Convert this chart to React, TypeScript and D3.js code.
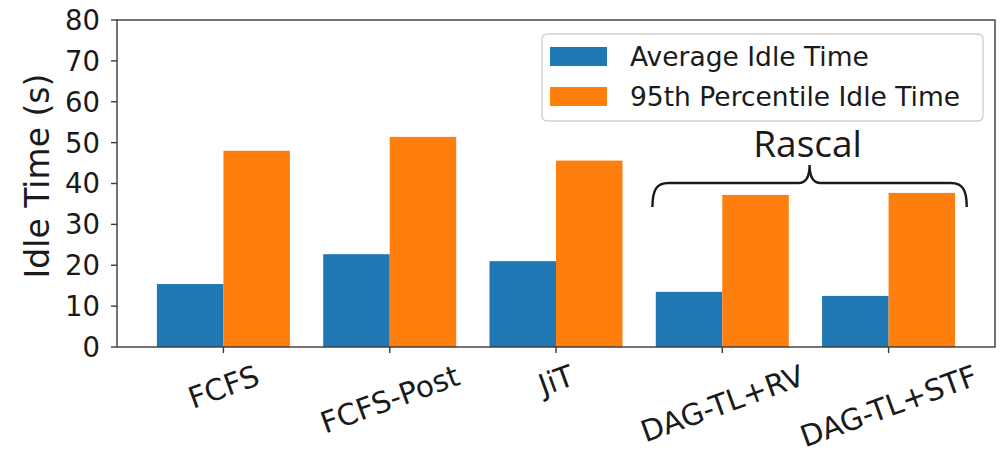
import React, { useEffect, useRef } from "react";
import * as d3 from "d3";

// Scheduling policies on the x axis
const categories = ["FCFS", "FCFS-Post", "JiT", "DAG-TL+RV", "DAG-TL+STF"];
// Idle time per policy, seconds
const averageIdle = [15.4, 22.7, 21.0, 13.5, 12.5];
const p95Idle = [48.0, 51.4, 45.6, 37.2, 37.7];
const yTicks = [0, 10, 20, 30, 40, 50, 60, 70, 80];
const seriesNames = ["Average Idle Time", "95th Percentile Idle Time"];
const seriesColors = ["#1f77b4", "#ff7f0e"];
const groupLabel = "Rascal";
const yLabel = "Idle Time (s)";

const W = 1007;
const H = 454;
const M = { left: 117, right: 995, top: 20, bottom: 347 };
const BAR_W = 0.4;
const ROT = 20;
const FONT = "'DejaVu Sans', sans-serif";
const XFS = 29.5;

export default function App() {
  const ref = useRef<SVGSVGElement | null>(null);

  useEffect(() => {
    const svg = d3.select(ref.current);
    svg.selectAll("*").remove();

    const x = d3.scaleLinear().domain([-0.64, 4.64]).range([M.left, M.right]);
    const y = d3.scaleLinear().domain([0, 80]).range([M.bottom, M.top]);

    svg.append("rect").attr("width", W).attr("height", H).attr("fill", "#fff");

    // bars
    const series = [averageIdle, p95Idle];
    series.forEach((vals, s) => {
      const off = s === 0 ? -BAR_W / 2 : BAR_W / 2;
      svg
        .append("g")
        .selectAll("rect")
        .data(vals)
        .join("rect")
        .attr("x", (_, i) => x(i + off - BAR_W / 2))
        .attr("width", x(BAR_W) - x(0))
        .attr("y", (v) => y(v))
        .attr("height", (v) => y(0) - y(v))
        .attr("fill", seriesColors[s]);
    });

    // spines
    svg
      .append("rect")
      .attr("x", M.left)
      .attr("y", M.top)
      .attr("width", M.right - M.left)
      .attr("height", M.bottom - M.top)
      .attr("fill", "none")
      .attr("stroke", "#3a3a3a")
      .attr("stroke-width", 1.4);

    // y ticks
    const yg = svg.append("g");
    yTicks.forEach((t) => {
      yg.append("line")
        .attr("x1", M.left - 6)
        .attr("x2", M.left)
        .attr("y1", y(t))
        .attr("y2", y(t))
        .attr("stroke", "#3a3a3a")
        .attr("stroke-width", 1.4);
      yg.append("text")
        .attr("x", 100)
        .attr("y", y(t))
        .attr("dy", "0.36em")
        .attr("text-anchor", "end")
        .attr("font-family", FONT)
        .attr("font-size", 27.5)
        .attr("fill", "#1a1a1a")
        .text(t);
    });

    svg
      .append("text")
      .attr("transform", `translate(48.5,176) rotate(-90)`)
      .attr("text-anchor", "middle")
      .attr("font-family", FONT)
      .attr("font-size", 33)
      .attr("fill", "#1a1a1a")
      .text(yLabel);

    // x ticks and rotated labels, centred under each tick, tops aligned
    const xg = svg.append("g");
    const rad = (ROT * Math.PI) / 180;
    categories.forEach((c, i) => {
      xg.append("line")
        .attr("x1", x(i))
        .attr("x2", x(i))
        .attr("y1", M.bottom)
        .attr("y2", M.bottom + 6)
        .attr("stroke", "#3a3a3a")
        .attr("stroke-width", 1.4);
      const t = xg
        .append("text")
        .attr("text-anchor", "middle")
        .attr("dy", "0.36em")
        .attr("font-family", FONT)
        .attr("font-size", XFS)
        .attr("fill", "#1a1a1a")
        .text(c);
      const node = t.node() as SVGTextElement;
      const len = node.getComputedTextLength();
      const capH = 0.729 * XFS;
      const hh = len * Math.sin(rad) + capH * Math.cos(rad);
      t.attr("transform", `translate(${x(i)},${364 + hh / 2}) rotate(${-ROT})`);
    });

    // legend
    const lg = svg.append("g");
    lg.append("rect")
      .attr("x", 542)
      .attr("y", 34)
      .attr("width", 441)
      .attr("height", 87)
      .attr("rx", 5)
      .attr("fill", "#fff")
      .attr("fill-opacity", 0.8)
      .attr("stroke", "#d0d0d0")
      .attr("stroke-width", 1.4);
    seriesNames.forEach((n, s) => {
      const cy = 56.5 + s * 40;
      lg.append("rect")
        .attr("x", 550)
        .attr("y", cy - 9.5)
        .attr("width", 57)
        .attr("height", 19)
        .attr("fill", seriesColors[s]);
      lg.append("text")
        .attr("x", 630)
        .attr("y", cy)
        .attr("dy", "0.36em")
        .attr("font-family", FONT)
        .attr("font-size", 26.5)
        .attr("fill", "#1a1a1a")
        .text(n);
    });

    // brace over the Rascal policies
    const x0 = x(2.58);
    const x1 = x(4.47);
    const xm = (x0 + x1) / 2;
    const yb = 207;
    const yh = 183;
    const yp = 165;
    const path = d3.path();
    path.moveTo(x0, yb);
    path.bezierCurveTo(x0, yh + 7, x0 + 4, yh, x0 + 16, yh);
    path.lineTo(xm - 11, yh);
    path.bezierCurveTo(xm - 4, yh, xm, yh - 5, xm, yp);
    path.bezierCurveTo(xm, yh - 5, xm + 4, yh, xm + 11, yh);
    path.lineTo(x1 - 16, yh);
    path.bezierCurveTo(x1 - 4, yh, x1, yh + 7, x1, yb);
    svg
      .append("path")
      .attr("d", path.toString())
      .attr("fill", "none")
      .attr("stroke", "#1a1a1a")
      .attr("stroke-width", 2.4);

    svg
      .append("text")
      .attr("x", xm - 2)
      .attr("y", 157)
      .attr("text-anchor", "middle")
      .attr("font-family", "'Open Sans', sans-serif")
      .attr("font-size", 37)
      .attr("fill", "#1a1a1a")
      .text(groupLabel);
  }, []);

  return (
    <svg
      ref={ref}
      width={W}
      height={H}
      style={{ position: "absolute", left: 0, top: 0 }}
    />
  );
}
